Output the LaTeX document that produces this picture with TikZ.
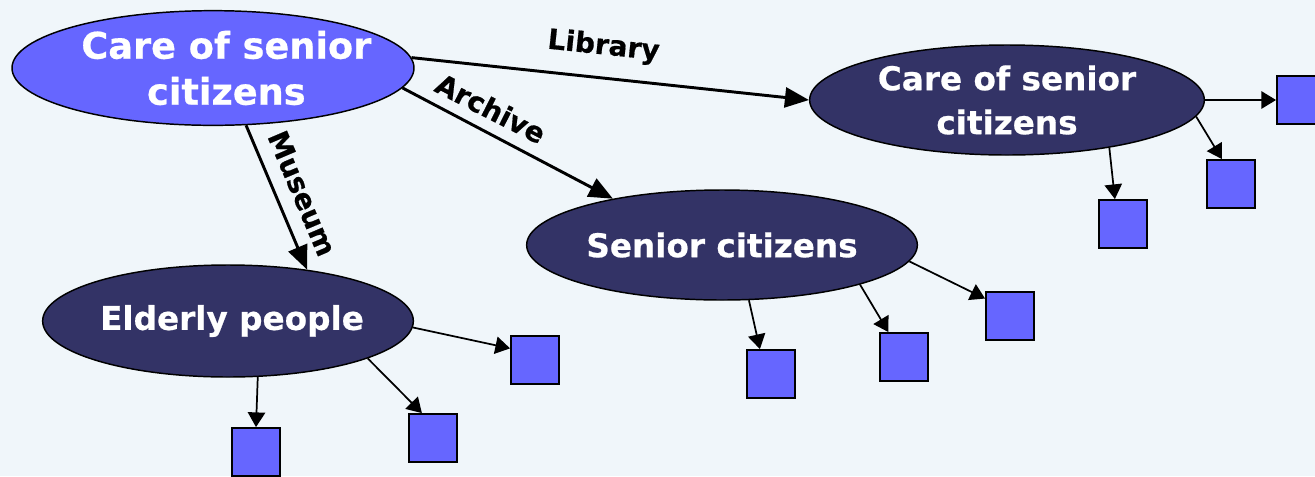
\documentclass[tikz,border=0pt]{standalone}
\usepackage{fontspec}
\setmainfont{DejaVu Sans}[BoldFeatures={FakeBold=0.6}]
\usetikzlibrary{shapes.geometric,arrows.meta}

\definecolor{bgblue}{RGB}{240,246,250}
\definecolor{lightblue}{RGB}{102,102,255}
\definecolor{darknavy}{RGB}{51,51,102}

\tikzset{every picture/.style={line width=0.75pt}}
\tikzset{
  topic/.style={ellipse, draw=black, line width=1.1pt, inner sep=0pt},
  topictext/.style={text=white, align=center, inner sep=0pt},
  leaf/.style={rectangle, draw=black, line width=1.4pt, fill=lightblue, minimum size=36pt, inner sep=0pt},
  relation/.style={line width=2.2pt, -{Triangle[length=18pt,width=15pt]}},
  subarrow/.style={line width=1.3pt, -{Triangle[length=11pt,width=13pt]}},
  rellabel/.style={font=\fontsize{21}{25}\selectfont\bfseries, anchor=south, inner xsep=0pt}
}

\begin{document}
\begin{tikzpicture}[x=0.75pt,y=0.75pt,yscale=-1,xscale=1]
\useasboundingbox (0,0) rectangle (1315,476);
%Shape: Rectangle (background)
\fill[bgblue] (0,0) rectangle (1315,476);

%Shape: Ellipse
\node[topic, fill=lightblue, minimum width=301.5pt, minimum height=86pt] (main) at (213,68) {};
%Shape: Ellipse
\node[topic, fill=darknavy, minimum width=296pt, minimum height=82.5pt] (care) at (1007,100) {};
%Shape: Ellipse
\node[topic, fill=darknavy, minimum width=293pt, minimum height=82.5pt] (sen) at (722,245) {};
%Shape: Ellipse
\node[topic, fill=darknavy, minimum width=278pt, minimum height=84pt] (eld) at (228,321) {};

% Text Node
\node[topictext, font=\fontsize{27.5}{34.5}\selectfont\bfseries, xshift=10pt] (main-t) at (main) {Care of senior\\citizens};
% Text Node
\node[topictext, font=\fontsize{24.5}{33}\selectfont\bfseries] (care-t) at (care) {Care of senior\\citizens};
% Text Node
\node[topictext, font=\fontsize{24.5}{30}\selectfont\bfseries] (sen-t) at (sen) {Senior citizens};
% Text Node
\node[topictext, font=\fontsize{24.5}{30}\selectfont\bfseries, xshift=3pt] (eld-t) at (eld) {Elderly people};

%Shape: Square
\node[leaf] (care-a) at (1301,100) {};
\node[leaf] (care-b) at (1231,184) {};
\node[leaf] (care-c) at (1123,224) {};
\node[leaf] (sen-a) at (1010,316) {};
\node[leaf] (sen-b) at (904,357) {};
\node[leaf] (sen-c) at (771,374) {};
\node[leaf] (eld-a) at (535,360) {};
\node[leaf] (eld-b) at (433,438) {};
\node[leaf] (eld-c) at (256,452) {};

%Straight Lines
\draw[relation] (main.3) -- (care.180) node[rellabel, pos=0.475, rotate=-6, inner ysep=12pt] (lib-l) {Library};
%Straight Lines
\draw[relation] (main.-6) -- (sen.157) node[rellabel, pos=0.37, rotate=-27, inner ysep=8pt] (arc-l) {Archive};
%Straight Lines
\draw[relation] (main.-60) -- (eld.33) node[rellabel, pos=0.54, rotate=-67, inner ysep=10pt] (mus-l) {Museum};

%Straight Lines
\draw[subarrow] (care.east) -- (care-a.west);
\draw[subarrow] (care.-5) -- (care-b.110);
\draw[subarrow] (care.-25) -- (care-c.108);
%Straight Lines
\draw[subarrow] (sen.-5) -- (sen-a.145);
\draw[subarrow] (sen.-16) -- (sen-b.122);
\draw[subarrow] (sen.-64) -- (sen-c.114);
%Straight Lines
\draw[subarrow] (eld.-2) -- (eld-a.155);
\draw[subarrow] (eld.-15) -- (eld-b.114);
\draw[subarrow] (eld.-62) -- (eld-c.north);

\end{tikzpicture}
\end{document}
